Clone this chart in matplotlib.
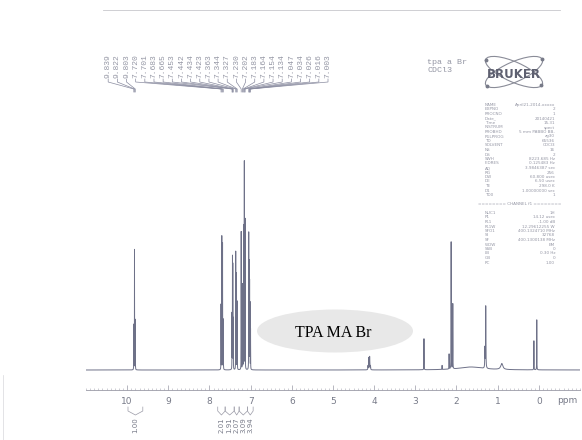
import numpy as np
import matplotlib
matplotlib.use("Agg")
from matplotlib import pyplot as plt
from matplotlib.patches import Ellipse

# peak list (ppm, height, half width)
peak_ppm = [9.839, 9.822, 9.803,
            7.720, 7.701, 7.683, 7.665,
            7.453, 7.442, 7.434, 7.423,
            7.363, 7.344, 7.327,
            7.230, 7.202, 7.183, 7.164, 7.154, 7.134,
            7.047, 7.034, 7.026, 7.016, 7.003,
            4.15, 4.13, 4.11, 4.09,
            2.79, 2.35, 2.18, 2.13, 2.09,
            1.65, 1.31, 1.29, 0.90, 0.12, 0.05]
peak_height = [45, 120, 50,
               65, 133, 126, 50,
               55, 110, 102, 50,
               118, 96, 68,
               138, 85, 75, 140, 205, 150,
               136, 105, 85, 65, 40,
               4, 12, 13, 4,
               31, 4, 15, 127, 65,
               3, 20, 62, 6, 29, 50]
peak_width = [0.0015] * 25 + [0.004] * 4 + [0.002] * 5 + [0.35, 0.004, 0.004, 0.03, 0.002, 0.002]

# labelled shifts printed above the spectrum
label_ppm = [9.839, 9.822, 9.803, 7.720, 7.701, 7.683, 7.665, 7.453, 7.442,
             7.434, 7.423, 7.363, 7.344, 7.327, 7.230, 7.202, 7.183, 7.164,
             7.154, 7.134, 7.047, 7.034, 7.026, 7.016, 7.003]

# integrals
integral_ranges = [(9.98, 9.62), (7.80, 7.62), (7.62, 7.40), (7.40, 7.28),
                   (7.28, 7.08), (7.08, 6.94)]
integral_values = ["1.00", "2.01", "1.91", "2.07", "3.09", "3.94"]

xticks = [10, 9, 8, 7, 6, 5, 4, 3, 2, 1, 0]

params = [("NAME", "April21-2014-xxxxx"), ("EXPNO", "2"), ("PROCNO", "1"),
          ("Date_", "20140421"), ("Time", "15.31"), ("INSTRUM", "spect"),
          ("PROBHD", "5 mm PABBO BB-"), ("PULPROG", "zg30"), ("TD", "65536"),
          ("SOLVENT", "CDCl3"), ("NS", "16"), ("DS", "2"),
          ("SWH", "8223.685 Hz"), ("FIDRES", "0.125483 Hz"),
          ("AQ", "3.9846387 sec"), ("RG", "256"), ("DW", "60.800 usec"),
          ("DE", "6.50 usec"), ("TE", "298.0 K"), ("D1", "1.00000000 sec"),
          ("TD0", "1")]
channel = [("NUC1", "1H"), ("P1", "14.12 usec"), ("PL1", "-1.00 dB"),
           ("PL1W", "12.29612255 W"), ("SFO1", "400.1324710 MHz"),
           ("SI", "32768"), ("SF", "400.1300138 MHz"), ("WDW", "EM"),
           ("SSB", "0"), ("LB", "0.30 Hz"), ("GB", "0"), ("PC", "1.00")]

W, H = 582, 440
line_col = "#6e7188"
text_col = "#9496a4"

fig = plt.figure(figsize=(W / 100, H / 100), dpi=100)

# decoration layer in pixel coordinates
deco = fig.add_axes([0, 0, 1, 1])
deco.set_xlim(0, W)
deco.set_ylim(H, 0)
deco.axis("off")

# spectrum axes: 11 .. -1 ppm between x=86 and x=580, axis line at y=390
# one y unit = one pixel, baseline (0) at y=370
ax = fig.add_axes([86 / W, 1 - 390 / H, 494 / W, 250 / H])
ax.patch.set_alpha(0)
ax.set_xlim(11, -1)
ax.set_ylim(-20, 230)

ppm = np.linspace(11, -1, 60001)
spec = np.zeros_like(ppm)
for p, h, w in zip(peak_ppm, peak_height, peak_width):
    spec += h * w**2 / ((ppm - p)**2 + w**2)
ax.plot(ppm, spec, color=line_col, lw=0.7)

for s in ["top", "left", "right"]:
    ax.spines[s].set_visible(False)
ax.spines["bottom"].set_color("#9a9aa6")
ax.spines["bottom"].set_linewidth(0.6)
ax.set_yticks([])
ax.set_xticks(xticks)
ax.set_xticks(np.arange(-1, 11.01, 0.1), minor=True)
ax.tick_params(axis="x", which="major", direction="in", length=3.5, width=0.5,
               color="#9a9aa6", labelsize=6.5, labelcolor="#777a88", pad=5)
ax.tick_params(axis="x", which="minor", direction="in", length=1.8, width=0.4,
               color="#aaaab4")
ax.text(-0.7, -30, "ppm", fontsize=6.5, color="#777a88", ha="center", va="center")

# peak labels with connector lines
lab_x = np.linspace((539 - 108) / 41.2, (539 - 328) / 41.2, len(label_ppm))
for lx, p in zip(lab_x, label_ppm):
    ax.text(lx, 292, "%.3f" % p, rotation=90, ha="center", va="bottom",
            fontsize=5.8, family="Liberation Mono", color=text_col)
    ax.plot([lx, lx, p, p], [291, 288, 281, 278], color="#8a8ca0", lw=0.5,
            clip_on=False)

# integrals below the axis
for (a, b), v in zip(integral_ranges, integral_values):
    c = (a + b) / 2
    ax.plot([a, a, c, b, b], [-37, -41, -45, -41, -37], color="#9a9aa6",
            lw=0.5, clip_on=False)
    ax.text(c, -47, v, rotation=90, ha="center", va="top", fontsize=5,
            color="#777a88")

# sample label
deco.add_patch(Ellipse((335, 331), 156, 43, facecolor="#e8e8e8", edgecolor="none"))
deco.text(333, 333, "TPA MA Br", fontsize=11.5, family="Liberation Serif",
          ha="center", va="center", color="black")

# header
deco.text(427, 63, "tpa a Br", fontsize=6, family="Liberation Mono",
          color=text_col, va="center")
deco.text(427, 71, "CDCl3", fontsize=6, family="Liberation Mono",
          color=text_col, va="center")

# Bruker logo
for ang in (24, -24):
    deco.add_patch(Ellipse((514, 72), 62, 20, angle=ang, fill=False,
                           edgecolor="#8a8c98", lw=0.8))
for ex, ey in [(486, 60), (542, 59), (487, 86), (541, 85)]:
    deco.plot(ex, ey, "o", ms=1.8, color="#777a88")
deco.text(514, 74, "BRUKER", fontsize=8.5, weight="bold", color="#5e6070",
          ha="center", va="center")

# acquisition parameters
row = 4.5
for i, (k, v) in enumerate(params):
    y = 105 + i * row
    deco.text(485, y, k, fontsize=3, color=text_col, va="center")
    deco.text(555, y, v, fontsize=3, color=text_col, va="center", ha="right")
deco.text(520, 105 + 22 * row, "======== CHANNEL f1 ========", fontsize=3,
          color=text_col, va="center", ha="center")
for i, (k, v) in enumerate(channel):
    y = 105 + (24 + i) * row
    deco.text(485, y, k, fontsize=3, color=text_col, va="center")
    deco.text(555, y, v, fontsize=3, color=text_col, va="center", ha="right")

# scan edges
deco.plot([103, 560], [10, 10], color="#c8c8cc", lw=0.6)
deco.plot([3, 3], [375, 440], color="#d8d8dc", lw=0.5)

fig.savefig("out.png", dpi=100)
